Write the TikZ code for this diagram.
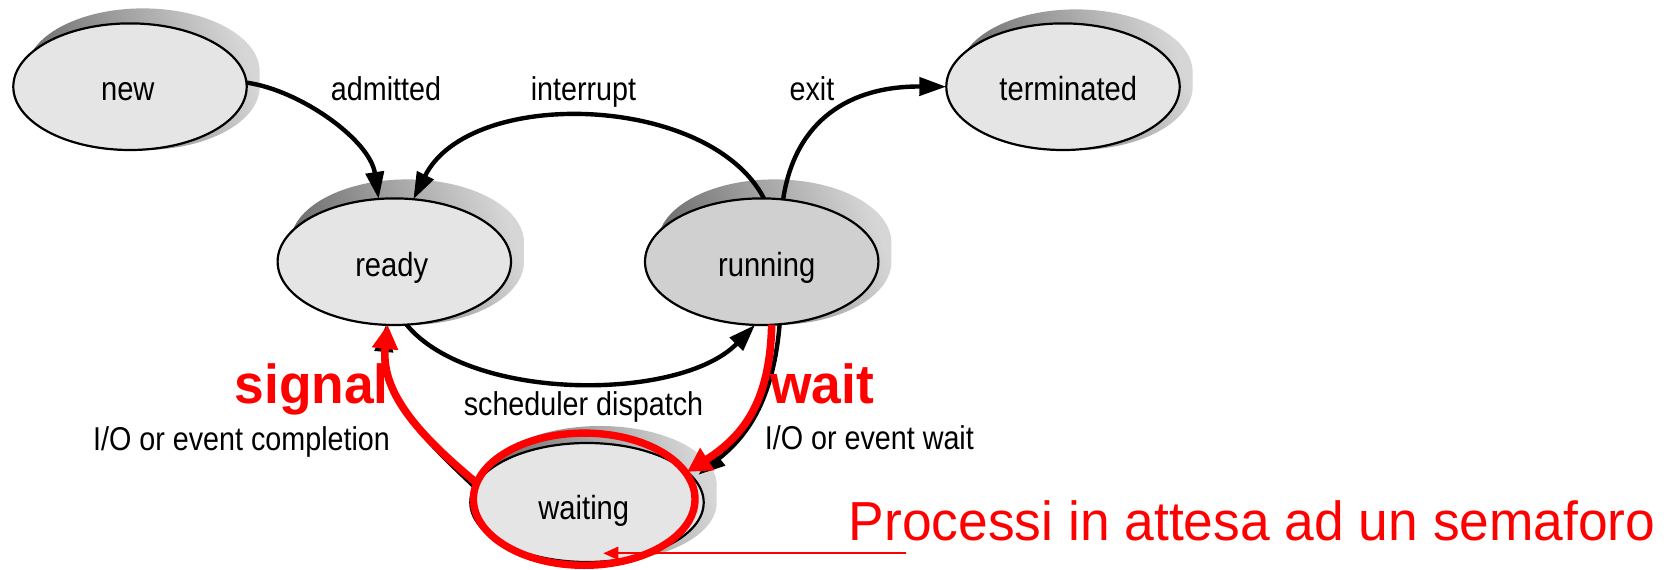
\documentclass[tikz,border=0pt]{standalone}
\usepackage{fontspec}
\setmainfont{Liberation Sans}
\newfontfamily\lblfont[FakeStretch=0.87]{Liberation Sans}
\newfontfamily\redfont[FakeStretch=0.97]{Liberation Sans}
\usetikzlibrary{shapes.geometric,arrows.meta}
\definecolor{nodefill}{RGB}{229,229,229}
\definecolor{runfill}{RGB}{208,208,208}
\definecolor{shdark}{RGB}{105,105,105}
\definecolor{shlight}{RGB}{214,214,214}
\definecolor{pured}{RGB}{255,0,0}
\newcommand\castshadow[4]{%
  \shade[shadowfill]
    (#1+13,#2) ellipse [x radius=116.7, y radius=#4]
    (#1+13,#2-#3*0.25) ellipse [x radius=116.7, y radius=#4]
    (#1+13,#2-#3*0.5) ellipse [x radius=116.7, y radius=#4]
    (#1+13,#2-#3*0.75) ellipse [x radius=116.7, y radius=#4]
    (#1+13,#2-#3) ellipse [x radius=116.7, y radius=#4];}
\begin{document}
\begin{tikzpicture}[x=1pt,y=-1pt,
  state/.style={ellipse, draw=black, line width=2.2pt, fill=nodefill, outer sep=0pt,
    minimum width=233.4pt, minimum height=126.6pt, inner sep=0pt},
  shadowfill/.style={left color=shdark, right color=shlight, shading angle=110},
  statelbl/.style={font=\lblfont\fontsize{33.5pt}{36pt}\selectfont, inner sep=0pt, anchor=base},
  edgelbl/.style={font=\lblfont\fontsize{33pt}{36pt}\selectfont, inner sep=0pt, anchor=base},
  trans/.style={draw=black, line width=4.4pt, -{Triangle[length=27pt,width=18pt]}},
  redtrans/.style={draw=pured, line width=7.6pt, -{Triangle[length=24pt,width=25pt]}},
  redlbl/.style={text=pured, inner sep=0pt},
  redbold/.style={redlbl, font=\redfont\bfseries\fontsize{55pt}{60pt}\selectfont},
  redplain/.style={redlbl, font=\redfont\fontsize{55pt}{60pt}\selectfont},
  procarrow/.style={draw=pured, line width=2pt, -{Triangle[length=15pt,width=13pt]}},
]
\fill[white] (0,0) rectangle (1668,570);
\useasboundingbox (0,0) rectangle (1668,570);

% shadows
\castshadow{130}{86.7}{15}{63.3}
\castshadow{394.3}{261.7}{19}{63.3}
\castshadow{761.7}{261.7}{19}{63.3}
\castshadow{1063}{86.7}{14}{63.3}
\castshadow{587}{502.5}{17}{59.5}

% states
\node[state] (new) at (130,86.7) {};
\node[state] (ready) at (394.3,261.7) {};
\node[state, fill=runfill] (running) at (761.7,261.7) {};
\node[state] (terminated) at (1063,86.7) {};
\node[state, minimum height=119pt] (waiting) at (587,502.5) {};

\node[statelbl] (newtxt) at (127.8,100) {new};
\node[statelbl] (readytxt) at (391.7,276) {ready};
\node[statelbl] (runningtxt) at (766.7,276) {running};
\node[statelbl] (termtxt) at (1068.3,100) {terminated};
\node[statelbl] (waitingtxt) at (583.8,519.3) {waiting};

% edge labels
\node[edgelbl] (admlbl) at (386,100) {admitted};
\node[edgelbl] (intlbl) at (583.5,100) {interrupt};
\node[edgelbl] (exitlbl) at (812,100) {exit};
\node[edgelbl] (schedlbl) at (583.5,415) {scheduler dispatch};
\node[edgelbl] (complbl) at (241.5,450) {I/O or event completion};
\node[edgelbl, anchor=base west] (evwaitlbl) at (764.6,449.3) {I/O or event wait};

% black transitions
\draw[trans] (new.2) .. controls (300,90) and (370,140) .. (ready.104);
\draw[trans] (running.88) .. controls (710,94) and (470,86) .. (ready.73);
\draw[trans] (running.71) .. controls (795,120) and (850,86) .. (terminated.180);
\draw[trans] (ready.-79) .. controls (470,402) and (680,402) .. (running.-96);
\draw[trans] ([xshift=-3pt,yshift=-3pt]waiting.170) .. controls (425,440) and (380,395) .. ([xshift=-1.5pt]ready.-96);
\draw[trans] (running.-74) .. controls (773,402) and (746,437) .. ([xshift=8pt]waiting.15);

% red overlay
\node[ellipse, draw=pured, line width=7.4pt, outer sep=0pt, minimum width=221.6pt, minimum height=132.2pt, inner sep=0pt] (redring) at (584.2,499.2) {};
\draw[redtrans] (waiting.170) .. controls (425,440) and (380,395) .. (ready.-96);
\draw[redtrans] (running.-81) .. controls (770,400) and (745,435) .. (waiting.17);

\node[redbold, anchor=base east] (signallbl) at (389,403.3) {signal};
\node[redbold, anchor=base west] (waitlbl) at (770,403.3) {wait};
\node[redplain, anchor=base west] (proclbl) at (848.7,540) {Processi in attesa ad un semaforo};

\coordinate (procstart) at (905.7,553.3);
\coordinate (proctip) at (603.3,553.3);
\draw[procarrow] (procstart) -- (proctip);
\end{tikzpicture}
\end{document}
